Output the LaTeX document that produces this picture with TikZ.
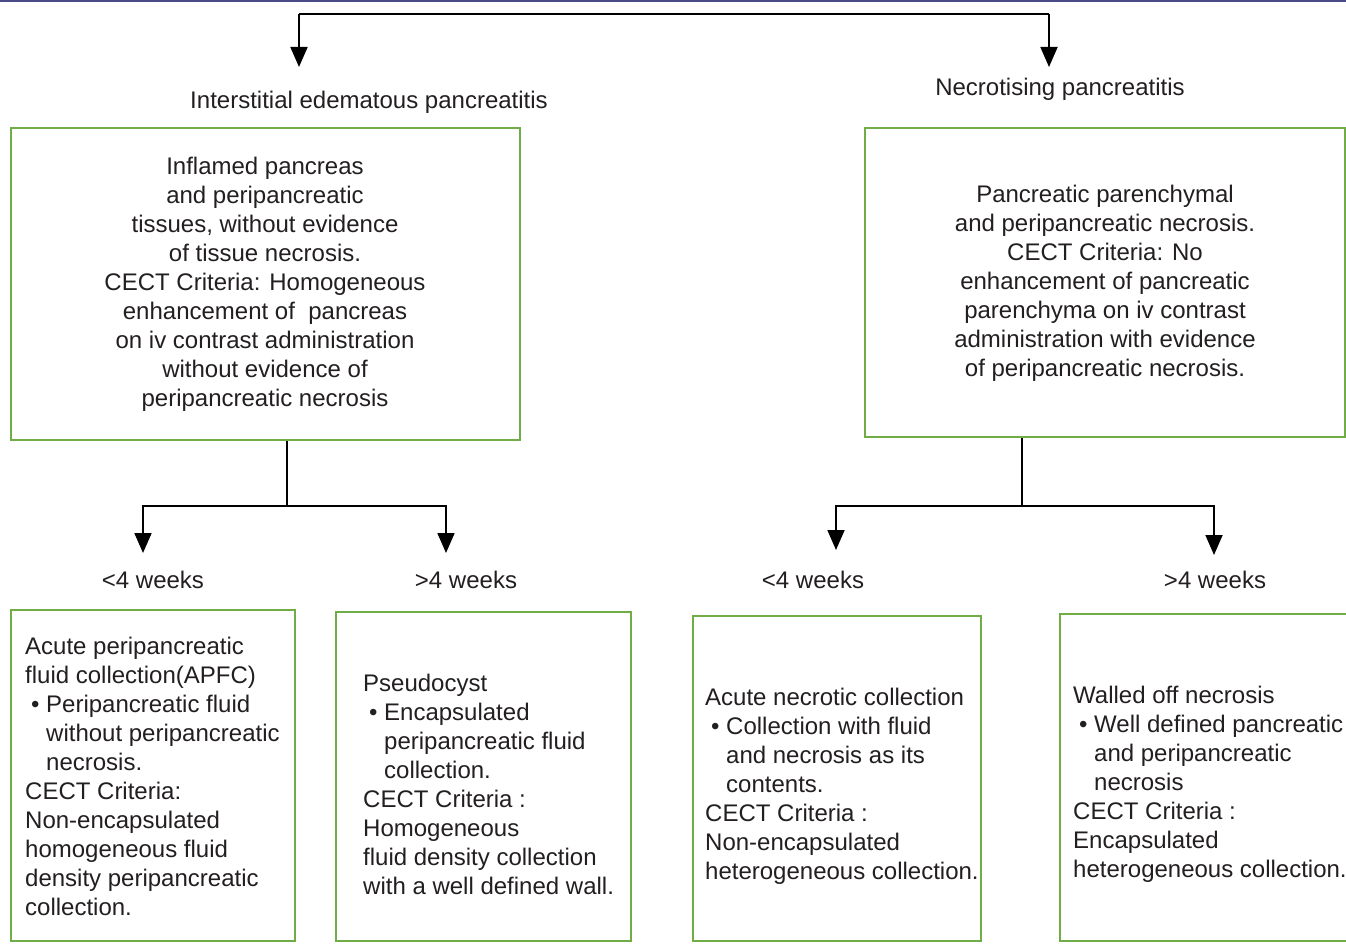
\documentclass[tikz,border=0pt]{standalone}
\usepackage{fontspec}
\setmainfont{Liberation Sans}
\usetikzlibrary{arrows.meta}
\definecolor{boxgreen}{HTML}{70AD47}
\definecolor{txt}{HTML}{231F20}
\definecolor{topline}{HTML}{4A4A86}
\newcommand{\bl}{\hspace*{6pt}\makebox[15pt][l]{•}}
\newcommand{\ind}{\hspace*{21pt}}
\begin{document}
\begin{tikzpicture}[x=1pt,y=-1pt,
  box/.style={draw=boxgreen,line width=1.6pt,rectangle,inner sep=0pt,fill=none},
  txtc/.style={inner sep=0pt,align=center,text=txt,font=\fontsize{24}{29}\selectfont},
  txtl/.style={inner sep=0pt,align=left,text=txt,font=\fontsize{24}{29}\selectfont,anchor=north west},
  conn/.style={draw=black,line width=1.8pt},
  arr/.style={conn,-{Triangle[width=17pt,length=20pt]}}]
\useasboundingbox (0,0) rectangle (1346,944);
\clip (0,0) rectangle (1346,944);
\fill[white] (0,0) rectangle (1346,944);
\draw[topline,line width=2pt] (0,1) -- (1346,1);

% level-1 labels
\node[txtc] (iep) at (369,102) {Interstitial edematous pancreatitis};
\node[txtc] (nep) at (1060,89) {Necrotising pancreatitis};

% big boxes
\node[box,minimum width=509pt,minimum height=312pt] (b1) at (265.5,284) {};
\node[box,minimum width=480pt,minimum height=309pt] (b2) at (1105,282.5) {};
\node[txtc,anchor=north] (b1t) at (265,157) {Inflamed pancreas\\and peripancreatic\\tissues, without evidence\\of tissue necrosis.\\CECT Criteria: Homogeneous\\enhancement of\ \ pancreas\\on iv contrast administration\\without evidence of\\peripancreatic necrosis};
\node[txtc,anchor=north] (b2t) at (1105,185) {Pancreatic parenchymal\\and peripancreatic necrosis.\\CECT Criteria: No\\enhancement of pancreatic\\parenchyma on iv contrast\\administration with evidence\\of peripancreatic necrosis.};

% top connector
\coordinate (tl) at (299,14);
\coordinate (tr) at (1049,14);
\coordinate (a1) at (299,67);
\coordinate (a2) at (1049,67);
\draw[conn] (tl) -- (tr);
\draw[arr] (tl) -- (a1);
\draw[arr] (tr) -- (a2);

% week labels
\node[txtc] (w1) at (153,580) {<4 weeks};
\node[txtc] (w2) at (466,580) {>4 weeks};
\node[txtc] (w3) at (813,580) {<4 weeks};
\node[txtc] (w4) at (1215,580) {>4 weeks};

% branch connectors
\coordinate (j1) at (287,506);
\coordinate (j2) at (1022,506);
\coordinate (t1) at (143,553);
\coordinate (t2) at (446,553);
\coordinate (t3) at (836,550);
\coordinate (t4) at (1214,555);
\draw[conn] (j1 |- b1.south) -- (j1);
\draw[conn] (j2 |- b2.south) -- (j2);
\draw[arr] (j1) -| (t1);
\draw[arr] (j1) -| (t2);
\draw[arr] (j2) -| (t3);
\draw[arr] (j2) -| (t4);

% bottom boxes
\node[box,minimum width=284pt,minimum height=331pt] (c1) at (153,775.5) {};
\node[box,minimum width=295pt,minimum height=329pt] (c2) at (483.5,776.5) {};
\node[box,minimum width=288pt,minimum height=325pt] (c3) at (837,778.5) {};
\node[box,minimum width=300pt,minimum height=327pt] (c4) at (1210,777.5) {};

\node[txtl] (c1t) at (25,637) {Acute peripancreatic\\fluid collection(APFC)\\\bl Peripancreatic fluid\\\ind without peripancreatic\\\ind necrosis.\\CECT Criteria:\\Non-encapsulated\\homogeneous fluid\\density peripancreatic\\collection.};
\node[txtl] (c2t) at (363,674) {Pseudocyst\\\bl Encapsulated\\\ind peripancreatic fluid\\\ind collection.\\CECT Criteria :\\Homogeneous\\fluid density collection\\with a well defined wall.};
\node[txtl] (c3t) at (705,688) {Acute necrotic collection\\\bl Collection with fluid\\\ind and necrosis as its\\\ind contents.\\CECT Criteria :\\Non-encapsulated\\heterogeneous collection.};
\node[txtl] (c4t) at (1073,686) {Walled off necrosis\\\bl Well defined pancreatic\\\ind and peripancreatic\\\ind necrosis\\CECT Criteria :\\Encapsulated\\heterogeneous collection.};
\end{tikzpicture}
\end{document}
